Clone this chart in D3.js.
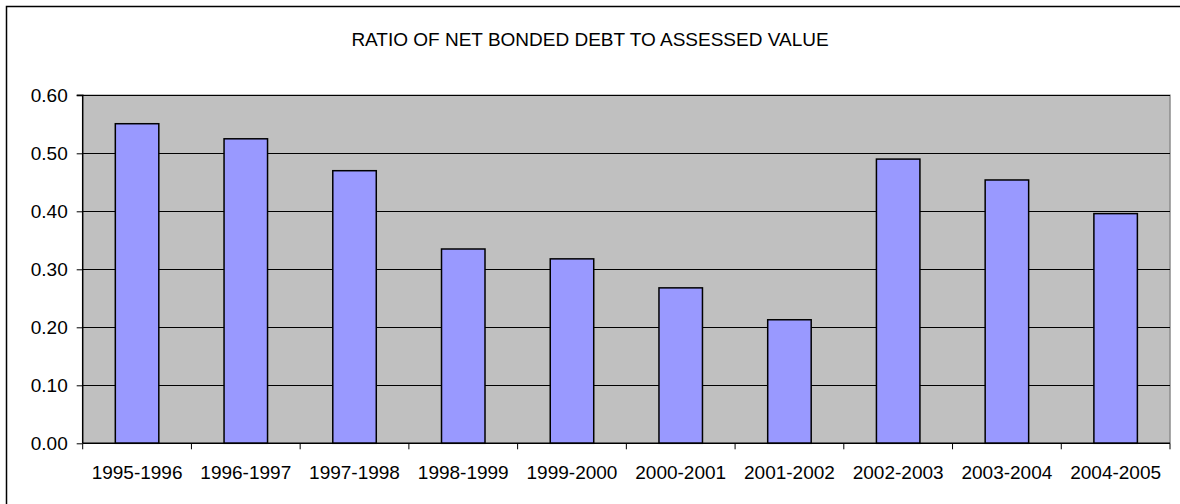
<!DOCTYPE html>
<html><head><meta charset="utf-8">
<script src="https://cdn.jsdelivr.net/npm/d3@7"></script>
<style>html,body{margin:0;padding:0;background:#fff;}svg{display:block;}text{font-family:Arial,"Liberation Sans",sans-serif;fill:#000;}</style>
</head><body><svg id="c" width="1180" height="504"></svg>
<script>
const title = "RATIO OF NET BONDED DEBT TO ASSESSED VALUE";
const categories = ["1995-1996","1996-1997","1997-1998","1998-1999","1999-2000","2000-2001","2001-2002","2002-2003","2003-2004","2004-2005"];
const values = [0.551, 0.525, 0.470, 0.335, 0.318, 0.268, 0.213, 0.490, 0.454, 0.396];
const yTicks = [0, 0.1, 0.2, 0.3, 0.4, 0.5, 0.6];

const svg = d3.select("#c");
const L = 82.7, R = 1170, T = 95.3, B = 443.3;

// outer border
svg.append("rect").attr("x",6.5).attr("y",6.5).attr("width",1200).attr("height",520)
  .attr("fill","#fff").attr("stroke","#000").attr("stroke-width",1.5);

const x = d3.scaleBand().domain(categories).range([L,R]).paddingInner(0.6).paddingOuter(0.3);
const xc = d3.scaleBand().domain(categories).range([L,R]);
const y = d3.scaleLinear().domain([0,0.6]).range([B,T]);

// plot background
svg.append("rect").attr("x",L).attr("y",T).attr("width",R-L).attr("height",B-T).attr("fill","#C0C0C0");
// plot border top/right
svg.append("path").attr("d",`M${L},${T}H${R}V${B}`).attr("fill","none").attr("stroke","#8c8c8c").attr("stroke-width",1.5);

// gridlines
svg.append("g").selectAll("line").data(yTicks.filter(d=>d>0)).join("line")
  .attr("x1",L).attr("x2",R).attr("y1",d=>Math.round(y(d))+0.5).attr("y2",d=>Math.round(y(d))+0.5)
  .attr("stroke","#000").attr("stroke-width",1);

// bars
svg.append("g").selectAll("rect").data(values).join("rect")
  .attr("x",(d,i)=>x(categories[i]))
  .attr("y",d=>y(d))
  .attr("width",x.bandwidth())
  .attr("height",d=>B-y(d))
  .attr("fill","#9999FF").attr("stroke","#000").attr("stroke-width",1.5);

// y axis
const ya = svg.append("g").attr("transform",`translate(${L},0)`)
  .call(d3.axisLeft(y).tickValues(yTicks).tickFormat(d3.format(".2f")).tickSize(6).tickPadding(9));
ya.select(".domain").attr("stroke","#000").attr("stroke-width",1.5).attr("d",`M-6,${T}H0V${B}`);
ya.selectAll("text").attr("font-size","19px").attr("font-family","Arial, 'Liberation Sans', sans-serif").attr("fill","#000");
ya.selectAll(".tick line").attr("stroke","#000");

// x axis (ticks at category boundaries)
const xa = svg.append("g").attr("transform",`translate(0,${B})`);
xa.append("line").attr("x1",L).attr("x2",R).attr("y1",0).attr("y2",0).attr("stroke","#000").attr("stroke-width",1.5);
xa.selectAll("line.tk").data(categories.concat(["end"])).join("line").attr("class","tk")
  .attr("x1",(d,i)=>i<categories.length? xc(d): R).attr("x2",(d,i)=>i<categories.length? xc(d): R)
  .attr("y1",0).attr("y2",6).attr("stroke","#000");
xa.selectAll("text").data(categories).join("text")
  .attr("x",d=>xc(d)+xc.bandwidth()/2).attr("y",36)
  .attr("text-anchor","middle").attr("font-size","19px").text(d=>d);

// title
svg.append("text").attr("x",590).attr("y",46).attr("text-anchor","middle").attr("font-size","19px").text(title);
</script></body></html>
